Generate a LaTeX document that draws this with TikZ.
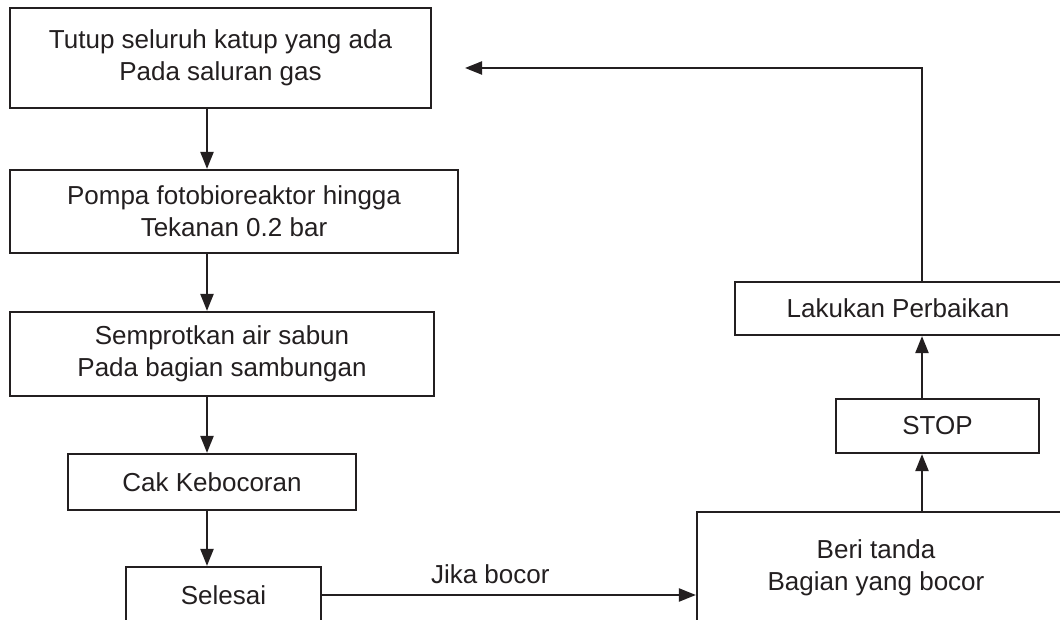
\documentclass[tikz,border=0pt]{standalone}
\usepackage{fontspec}
\setmainfont{Liberation Sans}
\usetikzlibrary{arrows.meta}
\definecolor{ink}{RGB}{35,31,32}
\begin{document}
\begin{tikzpicture}[x=1pt,y=-1pt,
  box/.style={draw=ink, line width=2.2pt, inner sep=0pt, align=center, text=ink, font=\fontsize{26}{32}\selectfont},
  arr/.style={draw=ink, line width=2.2pt, -{Triangle[length=17pt,width=13pt]}},
  lbl/.style={text=ink, font=\fontsize{26}{32}\selectfont, inner sep=0pt, align=center}]
\useasboundingbox (0,0) rectangle (1060,620);
\clip (0,0) rectangle (1060,620);
\fill[white] (0,0) rectangle (1060,620);

\node[box, minimum width=421pt, minimum height=100pt] (b1) at (220.5,58) {Tutup seluruh katup yang ada\\Pada saluran gas};
\node[box, minimum width=448pt, minimum height=83pt] (b2) at (234,211.5) {Pompa fotobioreaktor hingga\\Tekanan 0.2 bar};
\node[box, minimum width=424pt, minimum height=84pt] (b3) at (222,354) {Semprotkan air sabun\\Pada bagian sambungan};
\node[box, minimum width=288pt, minimum height=56pt] (b4) at (212,482) {Cak Kebocoran};
\node[box, minimum width=195pt, minimum height=56pt] (b5) at (223.5,595) {Selesai};
\node[box, minimum width=390pt, minimum height=112pt] (beri) at (892,568) {};
\node[lbl] (beritxt) at (876,568) {Beri tanda\\Bagian yang bocor};
\node[box, minimum width=203pt, minimum height=54pt] (stop) at (937.5,426) {STOP};
\node[box, minimum width=326pt, minimum height=53pt] (lak) at (898,308.5) {Lakukan Perbaikan};

\coordinate (xl) at (207,0);
\coordinate (xr) at (922,0);
\coordinate (top) at (922,68);
\coordinate (tip) at (465,68);

\draw[arr] (b1.south -| xl) -- (b2.north -| xl);
\draw[arr] (b2.south -| xl) -- (b3.north -| xl);
\draw[arr] (b3.south -| xl) -- (b4.north -| xl);
\draw[arr] (b4.south -| xl) -- (b5.north -| xl);
\draw[arr] (b5.east) -- node[lbl, pos=0.45, yshift=21pt] (jb) {Jika bocor} (b5.east -| beri.west);
\draw[arr] (beri.north -| xr) -- (stop.south -| xr);
\draw[arr] (stop.north -| xr) -- (lak.south -| xr);
\draw[arr] (lak.north -| xr) -- (top) -- (tip);
\end{tikzpicture}
\end{document}
